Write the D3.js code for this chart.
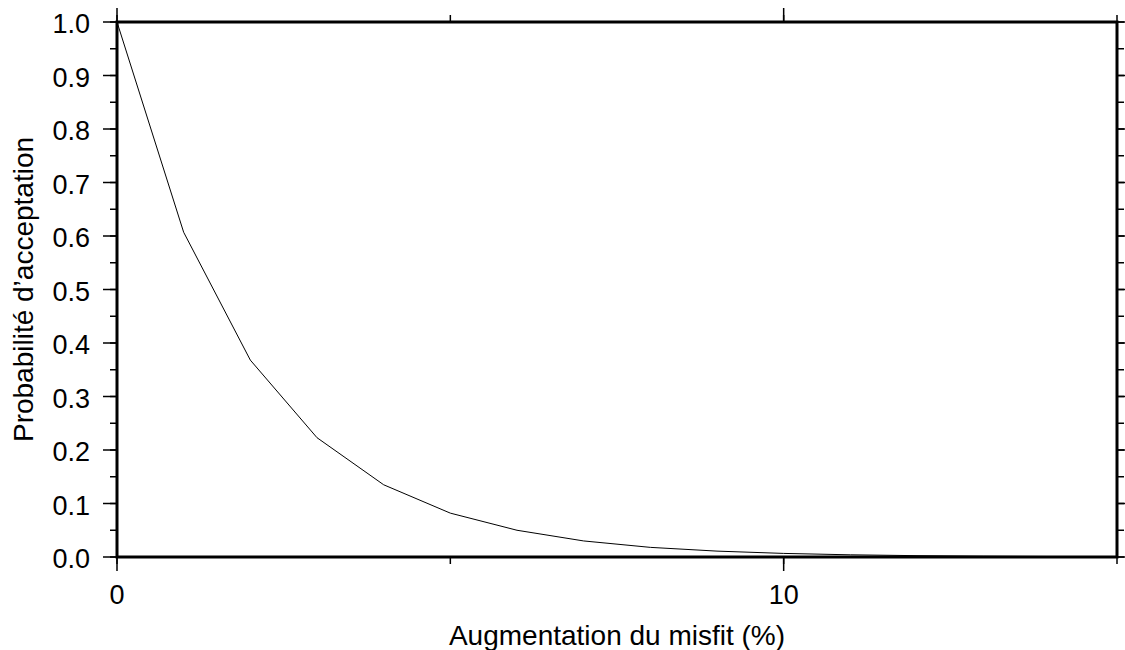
<!DOCTYPE html>
<html><head><meta charset="utf-8">
<script src="https://cdn.jsdelivr.net/npm/d3@7"></script>
<style>body{margin:0;background:#fff}svg{display:block}text{font-family:"Liberation Sans",Arial,sans-serif;fill:#000}</style>
</head><body><svg id="c" width="1125" height="650"></svg>
<script>
const xValues = [0,1,2,3,4,5,6,7,8,9,10,11,12,13,14,15];
const yValues = [1.0,0.607,0.368,0.223,0.135,0.082,0.050,0.030,0.018,0.011,0.0067,0.0041,0.0025,0.0015,0.0009,0.0006];
const xTickLabels = [0,10];
const yTickLabels = [0,0.1,0.2,0.3,0.4,0.5,0.6,0.7,0.8,0.9,1.0];
const xLabel = "Augmentation du misfit (%)";
const yLabel = "Probabilité d’acceptation";

const L=117,R=1117,T=22,B=557;
const svg=d3.select("#c");
const x=d3.scaleLinear().domain([0,15]).range([L,R]);
const y=d3.scaleLinear().domain([0,1]).range([B,T]);

const major=14, minor=7;
const xMinor=d3.range(0,15.01,5), yMinor=d3.range(0,1.001,0.05);
function tickLines(g, vals, len, side){
  vals.forEach(v=>{
    if(side==="b") g.append("line").attr("x1",x(v)).attr("x2",x(v)).attr("y1",B).attr("y2",B+len);
    if(side==="t") g.append("line").attr("x1",x(v)).attr("x2",x(v)).attr("y1",T).attr("y2",T-len);
    if(side==="l") g.append("line").attr("y1",y(v)).attr("y2",y(v)).attr("x1",L).attr("x2",L-len);
    if(side==="r") g.append("line").attr("y1",y(v)).attr("y2",y(v)).attr("x1",R).attr("x2",R+len);
  });
}
const tg=svg.append("g").attr("stroke","#000").attr("stroke-width",1.5);
["b","t"].forEach(s=>{tickLines(tg,xMinor,minor,s);tickLines(tg,xTickLabels,major,s);});
["l","r"].forEach(s=>{tickLines(tg,yMinor,minor,s);tickLines(tg,yTickLabels,major,s);});

svg.append("path").datum(xValues.map((d,i)=>[d,yValues[i]]))
  .attr("fill","none").attr("stroke","#000").attr("stroke-width",1)
  .attr("d",d3.line().x(d=>x(d[0])).y(d=>y(d[1])));

svg.append("rect").attr("x",L).attr("y",T).attr("width",R-L).attr("height",B-T)
  .attr("fill","none").attr("stroke","#000").attr("stroke-width",3);

yTickLabels.forEach(v=>{
  svg.append("text").attr("x",90).attr("y",y(v)+11).attr("text-anchor","end")
    .style("font-size","27px").text(d3.format(".1f")(v));
});
xTickLabels.forEach(v=>{
  svg.append("text").attr("x",x(v)).attr("y",604).attr("text-anchor","middle")
    .style("font-size","27px").text(v);
});
svg.append("text").attr("x",(L+R)/2).attr("y",645).attr("text-anchor","middle")
  .style("font-size","28px").text(xLabel);
svg.append("text").attr("transform",`translate(33,${(T+B)/2}) rotate(-90)`).attr("text-anchor","middle")
  .style("font-size","28px").text(yLabel);
</script></body></html>
